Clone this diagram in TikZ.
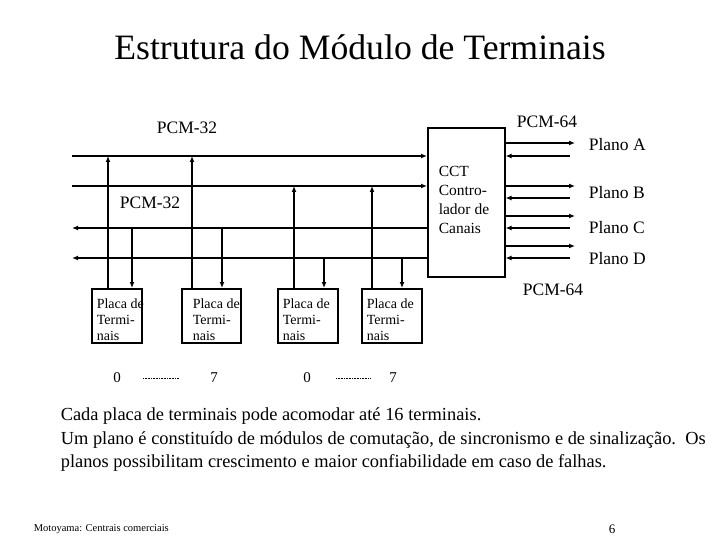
\documentclass[tikz,border=0pt]{standalone}
\usepackage{fontspec}
\setmainfont{Liberation Serif}
\usetikzlibrary{arrows.meta}
\begin{document}
\begin{tikzpicture}[x=1pt,y=-1pt,
  every path/.style={line width=1.6pt},
  tip/.style={-{Latex[length=6pt,width=5pt]}},
  box/.style={draw, line width=1.6pt, anchor=north west, inner sep=0pt},
  lbl/.style={font=\rmfamily\fontsize{17.5}{20}\selectfont, inner sep=0pt},
  ptxt/.style={font=\rmfamily\fontsize{14}{16}\selectfont, inner sep=0pt, align=left, anchor=north west},
  ctxt/.style={font=\rmfamily\fontsize{15.5}{19}\selectfont, inner sep=0pt, align=left, anchor=north west},
  num/.style={font=\rmfamily\fontsize{15}{18}\selectfont, inner sep=0pt},
  dots/.style={line width=0.8pt, dash pattern=on 0.8pt off 0.8pt},
]
\useasboundingbox (0,0) rectangle (720,540);

% title
\node[font=\fontsize{35.7}{40}\selectfont, inner sep=0pt] (title) at (360,47) {Estrutura do Módulo de Terminais};

% CCT box
\node[box, minimum width=77pt, minimum height=149pt] (cct) at (427,127) {};
\node[ctxt] (ccttxt) at (438,165) {CCT\\Contro-\\lador de\\Canais};

% left bus lines
\coordinate (a1) at (72,156);
\coordinate (a2) at (72,186);
\coordinate (a3) at (72,228);
\coordinate (a4) at (72,258);
\draw[tip] (a1) -- (a1 -| cct.west);
\draw[tip] (a2) -- (a2 -| cct.west);
\draw[tip] (a3 -| cct.west) -- (a3);
\draw[tip] (a4 -| cct.west) -- (a4);

\node[lbl] (pcm32a) at (187,128) {PCM-32};
\node[lbl] (pcm32b) at (150,203) {PCM-32};

% boards
\node[box, minimum width=50pt, minimum height=54pt] (b1) at (91,288) {};
\node[box, minimum width=59pt, minimum height=54pt] (b2) at (181,288) {};
\node[box, minimum width=60pt, minimum height=54pt] (b3) at (277,288) {};
\node[box, minimum width=60pt, minimum height=54pt] (b4) at (361,288) {};
\node[ptxt] (t1) at (96,298) {Placa de\\Termi-\\nais};
\node[ptxt] (t2) at (192,298) {Placa de\\Termi-\\nais};
\node[ptxt] (t3) at (282,298) {Placa de\\Termi-\\nais};
\node[ptxt] (t4) at (366,298) {Placa de\\Termi-\\nais};

% board connections
\draw[tip] ([xshift=17pt]b1.north west) -- ([xshift=17pt]b1.north west |- a1);
\draw[tip] ([xshift=41pt]b1.north west |- a3) -- ([xshift=41pt]b1.north west);
\draw[tip] ([xshift=11pt]b2.north west) -- ([xshift=11pt]b2.north west |- a1);
\draw[tip] ([xshift=41pt]b2.north west |- a3) -- ([xshift=41pt]b2.north west);
\draw[tip] ([xshift=17pt]b3.north west) -- ([xshift=17pt]b3.north west |- a2);
\draw[tip] ([xshift=47pt]b3.north west |- a4) -- ([xshift=47pt]b3.north west);
\draw[tip] ([xshift=11pt]b4.north west) -- ([xshift=11pt]b4.north west |- a2);
\draw[tip] ([xshift=41pt]b4.north west |- a4) -- ([xshift=41pt]b4.north west);

% numbers
\node[num] (n0a) at (117,378) {0};
\node[num] (n7a) at (214,378) {7};
\node[num] (n0b) at (307,378) {0};
\node[num] (n7b) at (393,378) {7};
\coordinate (d1s) at (143,378); \coordinate (d1e) at (179,378);
\coordinate (d2s) at (336,378); \coordinate (d2e) at (371,378);
\draw[dots] (d1s) -- (d1e);
\draw[dots] (d2s) -- (d2e);

% right side
\coordinate (oA) at (575,143); \coordinate (iA) at (570,156);
\coordinate (oB) at (575,186); \coordinate (iB) at (570,198);
\coordinate (oC) at (575,216); \coordinate (iC) at (570,228);
\coordinate (oD) at (575,246); \coordinate (iD) at (570,258);
\foreach \o/\i in {oA/iA,oB/iB,oC/iC,oD/iD}{
  \draw[tip] (\o -| cct.east) -- (\o);
  \draw[tip] (\i) -- (\i -| cct.east);
}
\node[lbl, anchor=west] (pa) at (588,145) {Plano A};
\node[lbl, anchor=west] (pb) at (588,193) {Plano B};
\node[lbl, anchor=west] (pc) at (588,228) {Plano C};
\node[lbl, anchor=west] (pd) at (588,259) {Plano D};
\node[lbl] (pcm64a) at (547,122) {PCM-64};
\node[lbl] (pcm64b) at (553,290) {PCM-64};

% bottom text
\node[font=\fontsize{18.4}{23.5}\selectfont, inner sep=0pt, align=left, anchor=north west] (desc) at (60,407)
 {Cada placa de terminais pode acomodar até 16 terminais.\\
  Um plano é constituído de módulos de comutação, de sincronismo e de sinalização.\ \ Os\\
  planos possibilitam crescimento e maior confiabilidade em caso de falhas.};

% footer
\node[font=\rmfamily\fontsize{10.5}{12}\selectfont, inner sep=0pt, anchor=west] (foot) at (33,529) {Motoyama: Centrais comerciais};
\node[font=\rmfamily\fontsize{13}{15}\selectfont, inner sep=0pt] (page) at (612,529) {6};
\end{tikzpicture}
\end{document}
